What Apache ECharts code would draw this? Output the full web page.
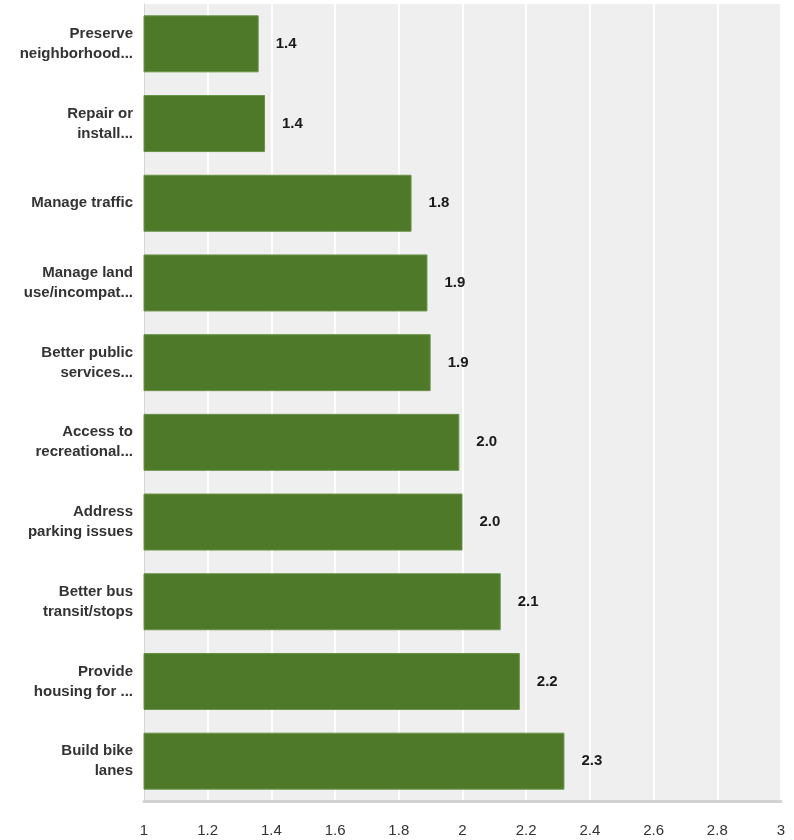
<!DOCTYPE html>
<html>
<head>
<meta charset="utf-8">
<script src="https://cdn.jsdelivr.net/npm/echarts@6/dist/echarts.min.js"></script>
<style>
html,body{margin:0;padding:0;background:#fff;}
#chart{width:794px;height:840px;}
</style>
</head>
<body>
<div id="chart"></div>
<script>
var categories = [
  "Preserve\nneighborhood...",
  "Repair or\ninstall...",
  "Manage traffic",
  "Manage land\nuse/incompat...",
  "Better public\nservices...",
  "Access to\nrecreational...",
  "Address\nparking issues",
  "Better bus\ntransit/stops",
  "Provide\nhousing for ...",
  "Build bike\nlanes"
];
var values = [1.36, 1.38, 1.84, 1.89, 1.90, 1.99, 2.00, 2.12, 2.18, 2.32];
var xMin = 1, xMax = 3, xStep = 0.2;

var chart = echarts.init(document.getElementById('chart'), null, {renderer: 'canvas'});
chart.setOption({
  backgroundColor: '#ffffff',
  animation: false,
  grid: {left: 144, right: 13, top: 4, bottom: 39, containLabel: false, show: true, backgroundColor: '#efefef', borderWidth: 0},
  xAxis: {
    type: 'value', min: xMin, max: xMax, interval: xStep,
    axisLine: {show: true, onZero: false, lineStyle: {color: '#d2d2d2', width: 3}},
    axisTick: {show: false},
    splitLine: {show: true, lineStyle: {color: '#ffffff', width: 2}},
    axisLabel: {
      margin: 22, color: '#333333', fontSize: 15,
      fontFamily: 'Liberation Sans, Arial, sans-serif',
      formatter: function (v) { return String(Math.round(v * 10) / 10); }
    }
  },
  yAxis: {
    type: 'category', data: categories, inverse: true,
    axisLine: {show: true, lineStyle: {color: '#d6d6d6', width: 1}},
    axisTick: {show: false},
    splitLine: {show: false},
    axisLabel: {
      margin: 11, color: '#333333', fontSize: 15, fontWeight: 'bold', lineHeight: 20,
      fontFamily: 'Liberation Sans, Arial, sans-serif', align: 'right'
    }
  },
  series: [{
    type: 'bar', data: values, barCategoryGap: '28.5%',
    itemStyle: {color: '#4e7928', borderColor: '#6a9248', borderWidth: 1},
    label: {
      show: true, position: 'right', distance: 17,
      color: '#1a1a1a', fontSize: 15, fontWeight: 'bold',
      fontFamily: 'Liberation Sans, Arial, sans-serif',
      formatter: function (p) { return p.value.toFixed(1); }
    }
  }]
});
</script>
</body>
</html>
